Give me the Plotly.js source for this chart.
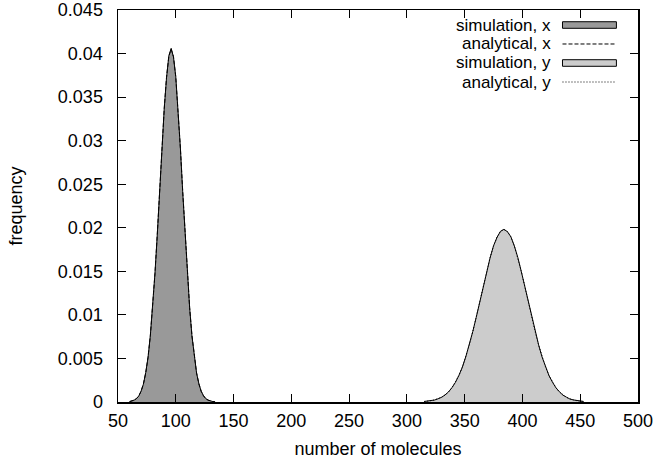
<!DOCTYPE html>
<html>
<head>
<meta charset="utf-8">
<script src="https://cdn.plot.ly/plotly-3.0.1.min.js"></script>
<style>body{margin:0;background:#fff}#chart{width:658px;height:466px}</style>
</head>
<body>
<div id="chart"></div>
<script>
// number of molecules, species x
const moleculesX = [60,62,64,66,68,70,72,74,76,78,80,82,84,86,88,90,92,94,96,98,100,102,104,106,108,110,112,114,116,118,120,122,124,126,128,130,132,134];
const simFreqX = [0.00004,0.00009,0.00022,0.00040,0.00069,0.00126,0.00205,0.00338,0.00511,0.00768,0.01078,0.01480,0.01922,0.02425,0.02905,0.03370,0.03722,0.03975,0.04060,0.03960,0.03735,0.03358,0.02918,0.02412,0.01934,0.01470,0.01086,0.00758,0.00518,0.00331,0.00210,0.00122,0.00072,0.00038,0.00022,0.00010,0.00005,0.00002];
const anaFreqX = [0.00005,0.00010,0.00021,0.00039,0.00071,0.00124,0.00208,0.00334,0.00515,0.00762,0.01082,0.01475,0.01928,0.02419,0.02912,0.03364,0.03729,0.03967,0.04050,0.03967,0.03729,0.03364,0.02912,0.02419,0.01928,0.01475,0.01082,0.00762,0.00515,0.00334,0.00208,0.00124,0.00071,0.00039,0.00021,0.00010,0.00005,0.00002];
// number of molecules, species y
const moleculesY = [315,318,321,324,327,330,333,336,339,342,345,348,351,354,357,360,363,366,369,372,375,378,381,384,387,390,393,396,399,402,405,408,411,414,417,420,423,426,429,432,435,438,441,444,447,450,453];
const simFreqY = [0.00006,0.00009,0.00016,0.00023,0.00037,0.00054,0.00081,0.00115,0.00165,0.00225,0.00305,0.00400,0.00520,0.00652,0.00808,0.00972,0.01152,0.01327,0.01503,0.01655,0.01794,0.01890,0.01960,0.01982,0.01955,0.01897,0.01790,0.01660,0.01498,0.01331,0.01148,0.00976,0.00805,0.00656,0.00516,0.00403,0.00302,0.00227,0.00163,0.00117,0.00079,0.00056,0.00035,0.00024,0.00015,0.00009,0.00006];
const anaFreqY = [0.00006,0.00009,0.00015,0.00024,0.00036,0.00055,0.00080,0.00116,0.00164,0.00226,0.00304,0.00401,0.00518,0.00654,0.00807,0.00974,0.01150,0.01329,0.01501,0.01658,0.01792,0.01894,0.01958,0.01980,0.01958,0.01894,0.01792,0.01658,0.01501,0.01329,0.01150,0.00974,0.00807,0.00654,0.00518,0.00401,0.00304,0.00226,0.00164,0.00116,0.00080,0.00055,0.00036,0.00024,0.00015,0.00009,0.00006];
const legendLabels = ["simulation, x","analytical, x","simulation, y","analytical, y"];

const FONT = "Liberation Sans, Arial, sans-serif";
const FS = 18;
const traces = [
  {x: moleculesX, y: simFreqX, type:'scatter', mode:'lines', fill:'tozeroy', fillcolor:'#999999', line:{color:'#000', width:1}, showlegend:false},
  {x: moleculesX, y: anaFreqX, type:'scatter', mode:'lines', line:{color:'#000', width:1, dash:'4px,2px'}, showlegend:false},
  {x: moleculesY, y: simFreqY, type:'scatter', mode:'lines', fill:'tozeroy', fillcolor:'#cccccc', line:{color:'#000', width:1}, showlegend:false},
  {x: moleculesY, y: anaFreqY, type:'scatter', mode:'lines', line:{color:'#000', width:1, dash:'1px,2px'}, showlegend:false}
];

// manual legend (gnuplot style: text right-aligned, key sample on the right)
const rowY = [0.9617, 0.9133, 0.8648, 0.8163];
const annotations = legendLabels.map((t,i)=>({
  text:t, xref:'paper', yref:'paper', x:0.8337, y:rowY[i], xanchor:'right', yanchor:'middle',
  borderpad:0, showarrow:false, font:{family:FONT, size:17, color:'#000'}
}));
const shapes = [
  {type:'rect', xref:'paper', yref:'paper', x0:0.8548, x1:0.9585, y0:rowY[0]-0.0084, y1:rowY[0]+0.0084, fillcolor:'#999999', line:{color:'#000', width:1}},
  {type:'line', xref:'paper', yref:'paper', x0:0.8548, x1:0.9585, y0:rowY[1], y1:rowY[1], line:{color:'#000', width:1, dash:'4px,2px'}},
  {type:'rect', xref:'paper', yref:'paper', x0:0.8548, x1:0.9585, y0:rowY[2]-0.0084, y1:rowY[2]+0.0084, fillcolor:'#cccccc', line:{color:'#000', width:1}},
  {type:'line', xref:'paper', yref:'paper', x0:0.8548, x1:0.9585, y0:rowY[3], y1:rowY[3], line:{color:'#000', width:1, dash:'1px,2px'}}
];

const layout = {
  width:658, height:466,
  margin:{l:118, r:20, t:10, b:64},
  paper_bgcolor:'#fff', plot_bgcolor:'#fff',
  font:{family:FONT, size:FS, color:'#000'},
  showlegend:false,
  xaxis:{range:[50,500], dtick:50, tick0:50, ticks:'inside', ticklen:8, tickcolor:'#000',
         showline:true, linecolor:'#000', linewidth:1.5, mirror:'ticks', showgrid:false, zeroline:false,
         ticklabelstandoff:2,
         title:{text:'number of molecules', font:{family:FONT, size:FS}, standoff:12}},
  yaxis:{range:[0,0.045], dtick:0.005, ticks:'inside', ticklen:8, tickcolor:'#000',
         showline:true, linecolor:'#000', linewidth:1.5, mirror:'ticks', showgrid:false, zeroline:false,
         ticklabelstandoff:10,
         title:{text:'frequency', font:{family:FONT, size:FS}, standoff:30}},
  annotations, shapes
};
Plotly.newPlot('chart', traces, layout, {displayModeBar:false, staticPlot:true});
</script>
</body>
</html>
